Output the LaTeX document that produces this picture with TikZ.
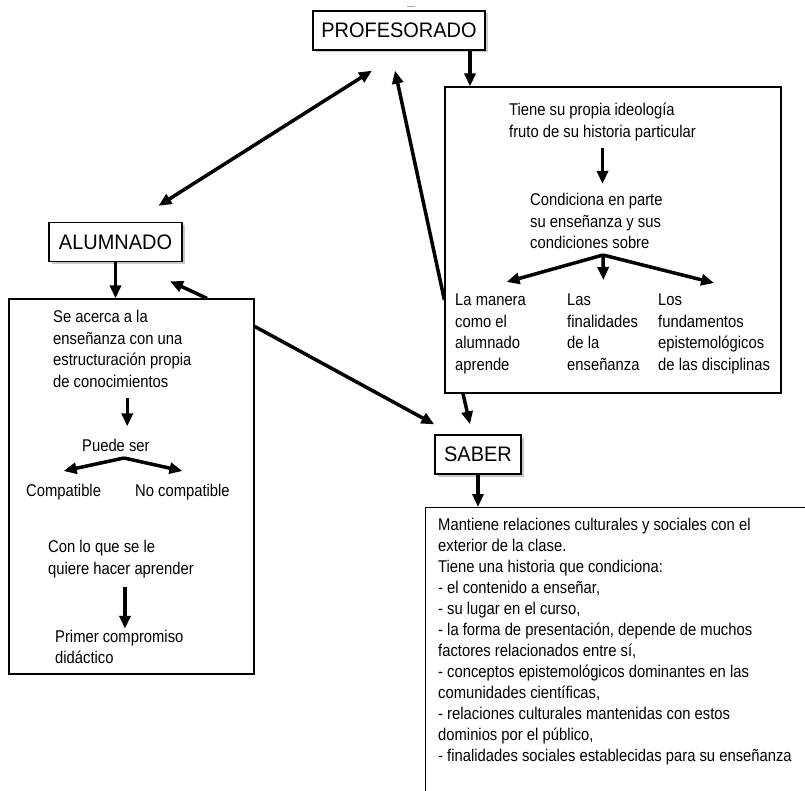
\documentclass[tikz,border=0pt]{standalone}
\usepackage{fontspec}
\setmainfont{Liberation Sans}
\newfontfamily\bodyfont{Liberation Sans}[FakeStretch=0.87]
\newfontfamily\titlefont{Liberation Sans}[FakeStretch=0.95]
\usepackage{tikz}
\usetikzlibrary{arrows.meta, positioning, shadows}
\tikzset{
  tbox/.style = {rectangle, draw, fill=white, line width=1.3pt, inner sep=0pt,
                 minimum height=39pt, font=\titlefont\fontsize{21}{24}\selectfont,
                 drop shadow={shadow xshift=2.5pt, shadow yshift=-2.5pt,
                              fill=gray!70, opacity=.6}},
  cbox/.style = {rectangle, draw, line width=1.2pt, inner sep=0pt},
  txt/.style  = {anchor=north west, inner sep=0pt, align=left,
                 font=\bodyfont\fontsize{17}{21.5}\selectfont},
  arr/.style  = {-{Triangle[length=13pt, width=11pt]}, line width=3.5pt},
  darr/.style = {{Triangle[length=13pt, width=11pt]}-{Triangle[length=13pt, width=11pt]},
                 line width=3.5pt},
}

\begin{document}
\begin{tikzpicture}[x=1pt, y=-1pt]
  \useasboundingbox (0,0) rectangle (805,791);
  \clip (0,0) rectangle (805,791);
  \fill[white] (0,0) rectangle (805,791);

  % title boxes
  \node[tbox, minimum width=172pt] (prof)  at (399,30.5) {PROFESORADO};
  \node[tbox, minimum width=133pt] (alum)  at (115.5,242) {ALUMNADO};
  \node[tbox, minimum width=86pt]  (saber) at (478,454.5) {SABER};
  \draw[gray!70, line width=1pt] (407,7) -- (415,7);

  % content boxes
  \node[cbox, minimum width=336pt, minimum height=306pt] (profbox)  at (613,240) {};
  \node[cbox, minimum width=245pt, minimum height=375pt] (alumbox)  at (131.5,486.5) {};
  \node[cbox, anchor=north west, minimum width=400pt, minimum height=320pt]
    (saberbox) at (425,507) {};

  % profesorado box
  \node[txt] (tiene) at (509,103) {Tiene su propia ideología\\fruto de su historia particular};
  \node[txt] (cond)  at (530,193) {Condiciona en parte\\su enseñanza y sus\\condiciones sobre};
  \node[txt] (manera) at (455,294) {La manera\\como el\\alumnado\\aprende};
  \node[txt] (fines)  at (567,294) {Las\\finalidades\\de la\\enseñanza};
  \node[txt] (fund)   at (658,294) {Los\\fundamentos\\epistemológicos\\de las disciplinas};
  \draw[arr] ([yshift=-7pt]tiene.south) -- ++(0,36);
  \coordinate (csplit) at (603,255);
  \draw[arr] (csplit) -- ([shift={(16pt,12pt)}]manera.north);
  \draw[arr] (csplit) -- ([yshift=14pt]fines.north);
  \draw[arr] (csplit) -- ([yshift=11pt]fund.north);

  % alumnado box
  \node[txt] (acerca) at (53,310) {Se acerca a la\\enseñanza con una\\estructuración propia\\de conocimientos};
  \node[txt] (puede)  at (82,439) {Puede ser};
  \node[txt] (compat)   at (26,484) {Compatible};
  \node[txt] (nocompat) at (135,484) {No compatible};
  \node[txt] (conlo)  at (48,540) {Con lo que se le\\quiere hacer aprender};
  \node[txt, font=\bodyfont\fontsize{17}{20.5}\selectfont] (primer) at (55,630)
    {Primer compromiso\\didáctico};
  \draw[arr] ([shift={(5pt,-11pt)}]acerca.south) -- ++(0,28);
  \coordinate (psplit) at (124,458);
  \draw[arr] (psplit) -- ([yshift=13pt]compat.north);
  \draw[arr] (psplit) -- ([yshift=13pt]nocompat.north);
  \draw[arr] ([shift={(4pt,-9pt)}]conlo.south) -- ++(0,42);

  % saber box
  \node[txt, font=\bodyfont\fontsize{17}{21}\selectfont] (sabertxt) at (438,518)
    {Mantiene relaciones culturales y sociales con el\\exterior de la clase.\\
     Tiene una historia que condiciona:\\- el contenido a enseñar,\\
     - su lugar en el curso,\\- la forma de presentación, depende de muchos\\
     factores relacionados entre sí,\\- conceptos epistemológicos dominantes en las\\
     comunidades científicas,\\- relaciones culturales mantenidas con estos\\
     dominios por el público,\\- finalidades sociales establecidas para su enseñanza};

  % connectors
  \coordinate (pdrop) at ([xshift=71pt]prof.south);
  \draw[arr] (pdrop) -- (pdrop |- profbox.north);
  \draw[darr] ([shift={(43pt,16pt)}]alum.north) -- ([shift={(-27pt,-20pt)}]prof.south);
  \draw[arr] ([yshift=-60pt]profbox.west) -- ([shift={(-4pt,-20pt)}]prof.south);
  \draw[arr] ([xshift=-150pt]profbox.south) -- ([shift={(-8pt,10pt)}]saber.north);
  \draw[arr] (alum.south) -- (alum.south |- alumbox.north);
  \draw[arr] ([xshift=75.5pt]alumbox.north) -- ([shift={(54.5pt,-19pt)}]alum.south);
  \draw[arr] ([yshift=-28pt]alumbox.north east) -- ([yshift=10pt]saber.north west);
  \draw[arr] (saber.south) -- (saber.south |- saberbox.north);
\end{tikzpicture}
\end{document}
